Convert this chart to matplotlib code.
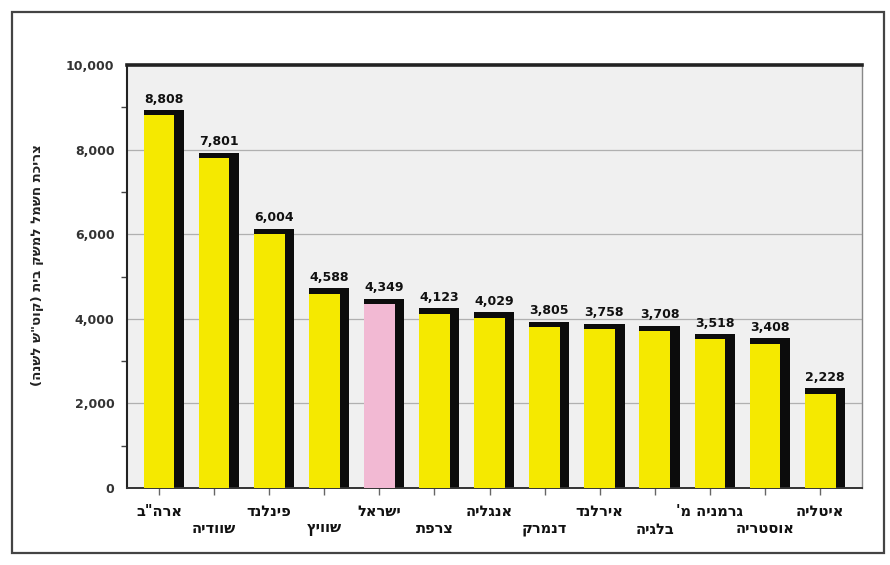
import matplotlib.pyplot as plt
from matplotlib.patches import Rectangle

# ערכים לפי מדינה
countries = ['ארה"ב', 'שוודיה', 'פינלנד', 'שוויץ', 'ישראל', 'צרפת', 'אנגליה',
             'דנמרק', 'אירלנד', 'בלגיה', "גרמניה מ'", 'אוסטריה', 'איטליה']
values = [8808, 7801, 6004, 4588, 4349, 4123, 4029, 3805, 3758, 3708, 3518, 3408, 2228]
highlight = 'ישראל'
y_label = 'צריכת חשמל למשק בית (קוט"ש לשנה)'
y_ticks = [0, 2000, 4000, 6000, 8000, 10000]


def rtl(s):
    # matplotlib draws glyphs left to right, so flip the Hebrew order
    swap = {'(': ')', ')': '('}
    return ''.join(swap.get(c, c) for c in reversed(s))


plt.rcParams['font.family'] = ['DejaVu Sans']
plt.rcParams['font.weight'] = 'bold'

fig = plt.figure(figsize=(8.9, 5.65), dpi=100)
fig.patch.set_facecolor('white')

# outer frame
fig.add_artist(Rectangle((12 / 890, 12 / 565), 872 / 890, 541 / 565,
                         transform=fig.transFigure, fill=False,
                         edgecolor='#444444', linewidth=1.6))

ax = fig.add_axes([127 / 890, 1 - 488 / 565, 735 / 890, 423 / 565])
ax.set_facecolor('#f0f0f0')

yellow_w = 0.56
shadow_w = 0.17
shadow_h = 130

for i, (name, v) in enumerate(zip(countries, values)):
    color = '#f2b9d3' if name == highlight else '#f5e900'
    ax.bar(i - yellow_w / 2, v + shadow_h, width=yellow_w + shadow_w, align='edge',
           color='#0c0c0c', zorder=2)
    ax.bar(i - yellow_w / 2, v, width=yellow_w, align='edge', color=color, zorder=3)
    ax.annotate(f'{v:,}', xy=(i + shadow_w / 2, v + shadow_h), xytext=(0, 3),
                textcoords='offset points', ha='center', va='bottom',
                fontsize=9, fontweight='bold', color='#111111')
    # labels alternate between two rows
    off = -17 if i % 2 == 0 else -29.5
    ax.annotate(rtl(name), xy=(i, 0), xycoords=ax.get_xaxis_transform(),
                xytext=(0, off), textcoords='offset points', ha='center', va='center',
                fontsize=10.5, fontweight='bold', color='#111111')

ax.set_xlim(-0.58, 12.76)
ax.set_ylim(0, 10000)
ax.set_yticks(y_ticks)
ax.set_yticklabels([f'{t:,}' for t in y_ticks], fontsize=9, fontweight='bold', color='#333333')
ax.set_yticks(range(1000, 10000, 2000), minor=True)
ax.tick_params(axis='y', which='major', length=0, pad=9)
ax.tick_params(axis='y', which='minor', length=4, width=1, color='#444444')
ax.set_xticks(range(len(countries)))
ax.set_xticklabels([])
ax.tick_params(axis='x', length=5, width=1, color='#666666')

ax.grid(axis='y', which='major', color='#b0b0b0', linewidth=0.9, zorder=1)
ax.set_axisbelow(True)

ax.spines['top'].set_linewidth(2.6)
ax.spines['top'].set_color('#222222')
ax.spines['left'].set_linewidth(1.5)
ax.spines['left'].set_color('#222222')
ax.spines['bottom'].set_linewidth(1.4)
ax.spines['bottom'].set_color('#333333')
ax.spines['right'].set_linewidth(1.0)
ax.spines['right'].set_color('#888888')

fig.text(38 / 890, 1 - 265 / 565, rtl(y_label), rotation=90, ha='center', va='center',
         fontsize=9.5, fontweight='bold', color='#222222')

fig.savefig('out.png', dpi=100)
